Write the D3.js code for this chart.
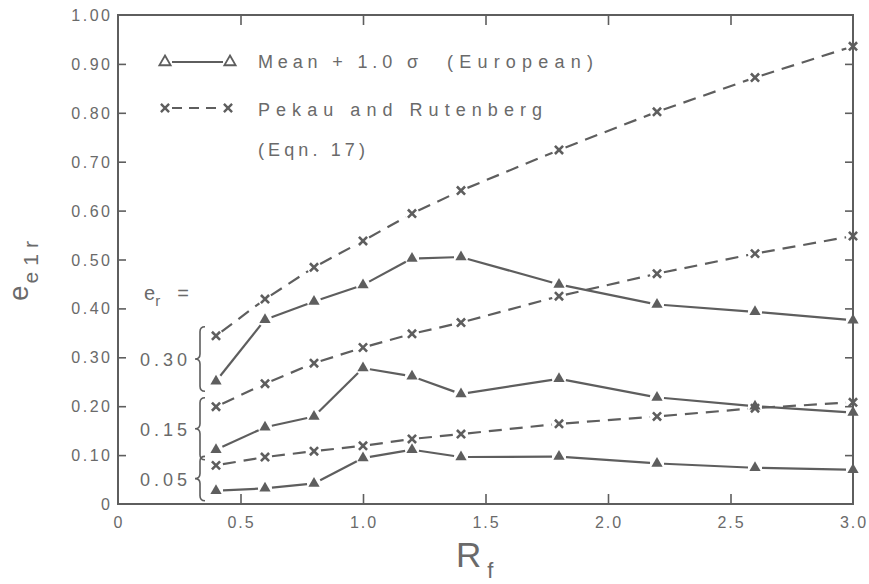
<!DOCTYPE html>
<html>
<head>
<meta charset="utf-8">
<script src="https://cdn.jsdelivr.net/npm/d3@7"></script>
<style>
  body { margin: 0; background: #fff; }
  svg text { font-family: "Liberation Sans", Arial, sans-serif; fill: #6a6a6a; }
</style>
</head>
<body>
<svg id="chart" width="869" height="584"></svg>
<script>
// values, R_f along x
const rf = [0.4, 0.6, 0.8, 1.0, 1.2, 1.4, 1.8, 2.2, 2.6, 3.0]
const mean30 = [0.251, 0.377, 0.414, 0.448, 0.502, 0.505, 0.449, 0.408, 0.393, 0.376]
const pekau30 = [0.344, 0.419, 0.484, 0.538, 0.594, 0.641, 0.724, 0.802, 0.872, 0.936]
const mean15 = [0.111, 0.157, 0.179, 0.278, 0.261, 0.225, 0.256, 0.218, 0.200, 0.187]
const pekau15 = [0.199, 0.246, 0.288, 0.320, 0.348, 0.371, 0.425, 0.471, 0.512, 0.548]
const mean05 = [0.027, 0.032, 0.042, 0.094, 0.111, 0.096, 0.097, 0.083, 0.074, 0.070]
const pekau05 = [0.079, 0.096, 0.108, 0.119, 0.133, 0.143, 0.164, 0.179, 0.196, 0.208]
const erLabels = ["0.30", "0.15", "0.05"]
const xTicks = [0, 0.5, 1.0, 1.5, 2.0, 2.5, 3.0]
const yTicks = [0, 0.1, 0.2, 0.3, 0.4, 0.5, 0.6, 0.7, 0.8, 0.9, 1.0]

const ink = "#5e5e5e"
const svg = d3.select("#chart")

const x = d3.scaleLinear().domain([0, 3.0]).range([118, 853])
const y = d3.scaleLinear().domain([0, 1.0]).range([504, 15])

// frame
svg.append("rect")
    .attr("x", x(0)).attr("y", y(1))
    .attr("width", x(3) - x(0)).attr("height", y(0) - y(1))
    .attr("fill", "none").attr("stroke", ink).attr("stroke-width", 2)

// inward ticks on all four sides
const yInner = yTicks.slice(1, -1)
const xInner = xTicks.slice(1, -1)
svg.append("g").attr("transform", "translate(" + x(0) + ",0)")
    .call(d3.axisRight(y).tickValues(yInner).tickSize(8).tickFormat(""))
svg.append("g").attr("transform", "translate(" + x(3) + ",0)")
    .call(d3.axisLeft(y).tickValues(yInner).tickSize(8).tickFormat(""))
svg.append("g").attr("transform", "translate(0," + y(0) + ")")
    .call(d3.axisTop(x).tickValues(xInner).tickSize(10).tickFormat(""))
svg.append("g").attr("transform", "translate(0," + y(1) + ")")
    .call(d3.axisBottom(x).tickValues(xInner).tickSize(10).tickFormat(""))
svg.selectAll(".domain").remove()
svg.selectAll(".tick line").attr("stroke", ink).attr("stroke-width", 1.6)

// tick labels
svg.append("g").selectAll("text")
    .data(yTicks).enter().append("text")
    .attr("x", x(0) - 8)
    .attr("y", d => y(d) + 6)
    .attr("text-anchor", "end")
    .attr("font-size", 16)
    .attr("letter-spacing", 2.5)
    .attr("dx", 2.5)
    .text(d => d === 0 ? "0" : d.toFixed(2))

svg.append("g").selectAll("text")
    .data(xTicks).enter().append("text")
    .attr("x", d => x(d))
    .attr("y", y(0) + 24)
    .attr("text-anchor", "middle")
    .attr("font-size", 16)
    .attr("letter-spacing", 2)
    .attr("dx", 1)
    .text(d => d === 0 ? "0" : d.toFixed(1))

// axis titles
const yt = svg.append("text")
    .attr("transform", "translate(28,301) rotate(-90)")
    .attr("font-size", 28)
yt.append("tspan").text("e")
yt.append("tspan").attr("font-size", 21).attr("dy", 10).attr("dx", 2)
    .attr("letter-spacing", 6).text("e1r")

const xt = svg.append("text")
    .attr("x", 456).attr("y", 567)
    .attr("font-size", 35)
xt.append("tspan").text("R")
xt.append("tspan").attr("font-size", 22).attr("dy", 11).attr("dx", 6).text("f")

// series, segments stop short of the markers like in the plot
const groups = [
    { mean: mean30, pekau: pekau30, label: erLabels[0] },
    { mean: mean15, pekau: pekau15, label: erLabels[1] },
    { mean: mean05, pekau: pekau05, label: erLabels[2] }
]

function segments(vals) {
    var segs = []
    for (var i = 0; i < vals.length - 1; i++) {
        var x1 = x(rf[i]), y1 = y(vals[i]), x2 = x(rf[i + 1]), y2 = y(vals[i + 1])
        var len = Math.hypot(x2 - x1, y2 - y1), g = 7
        var ux = (x2 - x1) / len, uy = (y2 - y1) / len
        segs.push([x1 + ux * g, y1 + uy * g, x2 - ux * g, y2 - uy * g])
    }
    return segs
}

const tri = d3.symbol().type(d3.symbolTriangle).size(55)
const cross = d3.symbol().type(d3.symbolX).size(45)

function drawSeries(vals, dashed) {
    var g = svg.append("g")
    g.selectAll("line").data(segments(vals)).enter().append("line")
        .attr("x1", d => d[0]).attr("y1", d => d[1])
        .attr("x2", d => d[2]).attr("y2", d => d[3])
        .attr("stroke", ink).attr("stroke-width", 2.2)
        .attr("stroke-dasharray", dashed ? "13,8" : null)
    var pts = g.selectAll("path").data(vals).enter().append("path")
        .attr("transform", (d, i) => "translate(" + x(rf[i]) + "," + y(d) + ")")
    if (dashed) {
        pts.attr("d", cross).attr("fill", "none").attr("stroke", ink).attr("stroke-width", 2.6)
    } else {
        pts.attr("d", tri).attr("fill", ink)
    }
}

groups.forEach(function(gr) {
    drawSeries(gr.pekau, true)
    drawSeries(gr.mean, false)

    // curly brace grouping the two series at the first point
    var top = y(Math.max(gr.mean[0], gr.pekau[0])) - 9
    var bot = y(Math.min(gr.mean[0], gr.pekau[0])) + 10
    var mid = (top + bot) / 2
    var bx = 200
    var p = d3.path()
    p.moveTo(bx + 5, top)
    p.quadraticCurveTo(bx, top, bx, top + 5)
    p.lineTo(bx, mid - 5)
    p.quadraticCurveTo(bx, mid, bx - 5, mid)
    p.quadraticCurveTo(bx, mid, bx, mid + 5)
    p.lineTo(bx, bot - 5)
    p.quadraticCurveTo(bx, bot, bx + 5, bot)
    svg.append("path").attr("d", p.toString())
        .attr("fill", "none").attr("stroke", ink).attr("stroke-width", 1.6)

    svg.append("text")
        .attr("x", 187).attr("y", mid + 7)
        .attr("text-anchor", "end")
        .attr("font-size", 18)
        .attr("letter-spacing", 4).attr("dx", 4)
        .text(gr.label)
})

// e_r = label
const er = svg.append("text").attr("x", 144).attr("y", 300).attr("font-size", 20)
er.append("tspan").text("e")
er.append("tspan").attr("font-size", 15).attr("dy", 6).text("r")
er.append("tspan").attr("dy", -6).attr("dx", 17).text("=")

// legend
const leg = svg.append("g")
leg.append("line").attr("x1", 172).attr("x2", 223).attr("y1", 62).attr("y2", 62)
    .attr("stroke", ink).attr("stroke-width", 2.2)
leg.selectAll(".lt").data([165, 230]).enter().append("path")
    .attr("transform", d => "translate(" + d + ",62)")
    .attr("d", tri).attr("fill", "none").attr("stroke", ink).attr("stroke-width", 1.8)
leg.append("line").attr("x1", 172).attr("x2", 222).attr("y1", 108).attr("y2", 108)
    .attr("stroke", ink).attr("stroke-width", 2.2).attr("stroke-dasharray", "10,7")
leg.selectAll(".lx").data([165, 228]).enter().append("path")
    .attr("transform", d => "translate(" + d + ",108)")
    .attr("d", cross).attr("fill", "none").attr("stroke", ink).attr("stroke-width", 2.4)

function legText(t, x0, y0, w) {
    leg.append("text").attr("x", x0).attr("y", y0).attr("font-size", 18)
        .attr("textLength", w).attr("lengthAdjust", "spacing").text(t)
}
legText("Mean + 1.0 \u03c3", 258, 68, 160)
legText("(European)", 447, 68, 146)
legText("Pekau and Rutenberg", 258, 116, 284)
legText("(Eqn. 17)", 258, 156, 107)
</script>
</body>
</html>
